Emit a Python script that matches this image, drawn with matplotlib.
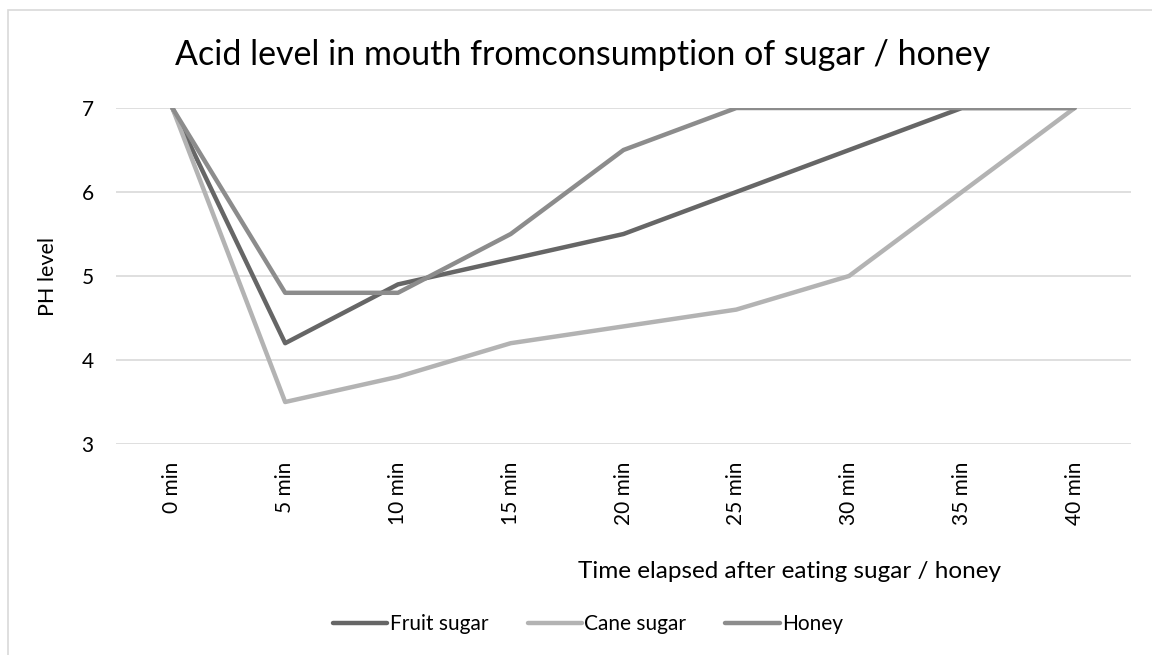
import matplotlib
matplotlib.use('Agg')
import matplotlib.pyplot as plt
from matplotlib.patches import Rectangle

plt.rcParams['font.family'] = ['Lato', 'DejaVu Sans']

# data
times = ['0 min', '5 min', '10 min', '15 min', '20 min', '25 min', '30 min', '35 min', '40 min']
fruit_sugar = [7, 4.2, 4.9, 5.2, 5.5, 6.0, 6.5, 7, 7]
cane_sugar = [7, 3.5, 3.8, 4.2, 4.4, 4.6, 5.0, 6.0, 7]
honey = [7, 4.8, 4.8, 5.5, 6.5, 7, 7, 7, 7]
y_ticks = [3, 4, 5, 6, 7]

W, H = 1152, 655
fig = plt.figure(figsize=(W / 100, H / 100), dpi=100)
fig.patch.set_facecolor('white')

# chart frame (Excel style)
fig.patches.append(Rectangle((8 / W, -0.1), 1.2, 1 - 10 / H + 0.1,
                             transform=fig.transFigure, fill=False,
                             edgecolor='#d9d9d9', linewidth=1.2))

ax = fig.add_axes([116 / W, 1 - 444 / H, (1131 - 116) / W, (444 - 108) / H])
x = range(len(times))
ax.plot(x, fruit_sugar, color='#666666', lw=3.2, label='Fruit sugar', solid_capstyle='round', zorder=3)
ax.plot(x, cane_sugar, color='#b3b3b3', lw=3.2, label='Cane sugar', solid_capstyle='round', zorder=3)
ax.plot(x, honey, color='#8c8c8c', lw=3.2, label='Honey', solid_capstyle='round', zorder=3)

ax.set_xlim(-0.5, len(times) - 0.5)
ax.set_ylim(3, 7)
ax.set_yticks(y_ticks)
ax.set_xticks(list(x))
ax.set_xticklabels(times, rotation=90, fontsize=15)
ax.tick_params(axis='y', labelsize=15, length=0, pad=16)
ax.tick_params(axis='x', length=0, pad=13)
ax.grid(axis='y', color='#d9d9d9', lw=1.2, zorder=0)
for s in ax.spines.values():
    s.set_visible(False)

fig.text(583 / W, 1 - 55 / H, 'Acid level in mouth fromconsumption of sugar / honey',
         ha='center', va='center', fontsize=24.5)
fig.text(48 / W, 1 - 276 / H, 'PH level', rotation=90, ha='center', va='center', fontsize=15.5)
fig.text(790 / W, 1 - 571 / H, 'Time elapsed after eating sugar / honey',
         ha='center', va='center', fontsize=17.5)

fig.legend(loc='center', bbox_to_anchor=(588 / W, 1 - 624 / H), ncol=3, frameon=False,
           fontsize=15, handlelength=2.6, handletextpad=0.1, columnspacing=1.9)

fig.savefig('out.png', dpi=100, facecolor='white')
